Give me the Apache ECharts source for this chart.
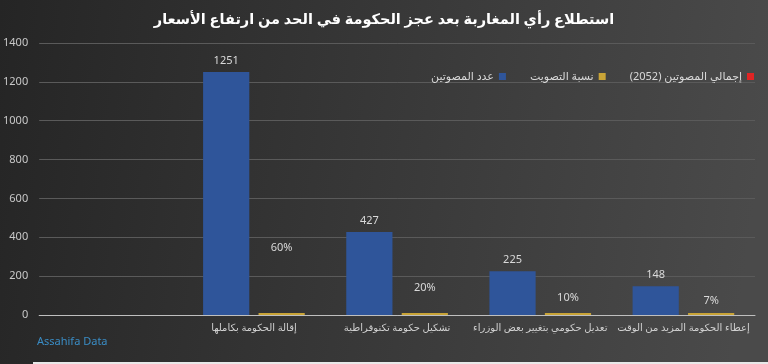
<!DOCTYPE html>
<html>
<head>
<meta charset="utf-8">
<script src="https://cdn.jsdelivr.net/npm/echarts@6/dist/echarts.min.js"></script>
<style>html,body{margin:0;padding:0;background:#2e2e2e;}#c{width:768px;height:364px;}</style>
</head>
<body>
<div id="c"></div>
<script>
const categories = ['', 'إقالة الحكومة بكاملها', 'تشكيل حكومة تكنوقراطية', 'تعديل حكومي بتغيير بعض الوزراء', 'إعطاء الحكومة المزيد من الوقت'];
const voters = [null, 1251, 427, 225, 148];
const sharePct = [null, 60, 20, 10, 7];
const seriesNames = ['عدد المصوتين', 'نسبة التصويت', 'إجمالي المصوتين (2052)'];
const titleText = 'استطلاع رأي المغاربة بعد عجز الحكومة في الحد من ارتفاع الأسعار';
const yMin = 0, yMax = 1400, yStep = 200;

const font = "'Noto Sans', 'DejaVu Sans', sans-serif";
const chart = echarts.init(document.getElementById('c'), null, {renderer: 'canvas'});

const shareData = sharePct.map(p => p == null ? null : {
  value: p / 100,
  label: {distance: p}
});

chart.setOption({
  backgroundColor: new echarts.graphic.LinearGradient(0, 0, 1, 0.3, [
    {offset: 0, color: '#252525'},
    {offset: 1, color: '#4a4a4a'}
  ]),
  animation: false,
  title: {
    text: titleText,
    left: 'center',
    top: 7,
    textStyle: {color: '#ffffff', fontSize: 14.5, fontWeight: 'bold', fontFamily: font}
  },
  legend: {
    right: 14,
    top: 71,
    padding: 0,
    align: 'right',
    itemWidth: 7,
    itemHeight: 7,
    itemGap: 24,
    textStyle: {color: '#d9d9d9', fontSize: 11, fontFamily: font},
    data: [
      {name: seriesNames[0], icon: 'rect'},
      {name: seriesNames[1], icon: 'rect'},
      {name: seriesNames[2], icon: 'rect'}
    ]
  },
  grid: {left: 38, right: 13, top: 43, bottom: 49, containLabel: false},
  xAxis: {
    type: 'category',
    data: categories,
    axisLine: {lineStyle: {color: '#bfbfbf', width: 1}},
    axisTick: {show: false},
    axisLabel: {color: '#d0d0d0', fontSize: 10, margin: 8, fontFamily: font, interval: 0}
  },
  yAxis: {
    type: 'value',
    min: yMin,
    max: yMax,
    interval: yStep,
    axisLine: {show: false},
    axisTick: {show: false},
    axisLabel: {color: '#c8c8c8', fontSize: 11, margin: 11, fontFamily: font, formatter: v => String(v)},
    splitLine: {lineStyle: {color: '#5a5a5a', width: 1}}
  },
  series: [
    {
      name: seriesNames[0],
      type: 'bar',
      data: voters,
      barCategoryGap: '29%',
      barGap: '20%',
      itemStyle: {color: '#2f559a'},
      label: {show: true, position: 'top', distance: 6, color: '#d9d9d9', fontSize: 11, fontFamily: font}
    },
    {
      name: seriesNames[1],
      type: 'bar',
      data: shareData,
      barCategoryGap: '29%',
      barGap: '20%',
      barMinHeight: 2,
      itemStyle: {color: '#c9a437'},
      label: {
        show: true, position: 'top', color: '#d9d9d9', fontSize: 11, fontFamily: font,
        formatter: p => sharePct[p.dataIndex] + '%'
      }
    },
    {
      name: seriesNames[2],
      type: 'line',
      data: [],
      itemStyle: {color: '#e02424'},
      lineStyle: {color: '#e02424'}
    }
  ],
  graphic: [
    {type: 'text', left: 37, top: 336, style: {text: 'Assahifa Data', fill: '#3a8cc4', fontSize: 11, fontFamily: font}},
    {type: 'rect', left: 33, top: 362, shape: {width: 740, height: 2}, style: {fill: '#e8e8e8'}}
  ]
});
</script>
</body>
</html>
